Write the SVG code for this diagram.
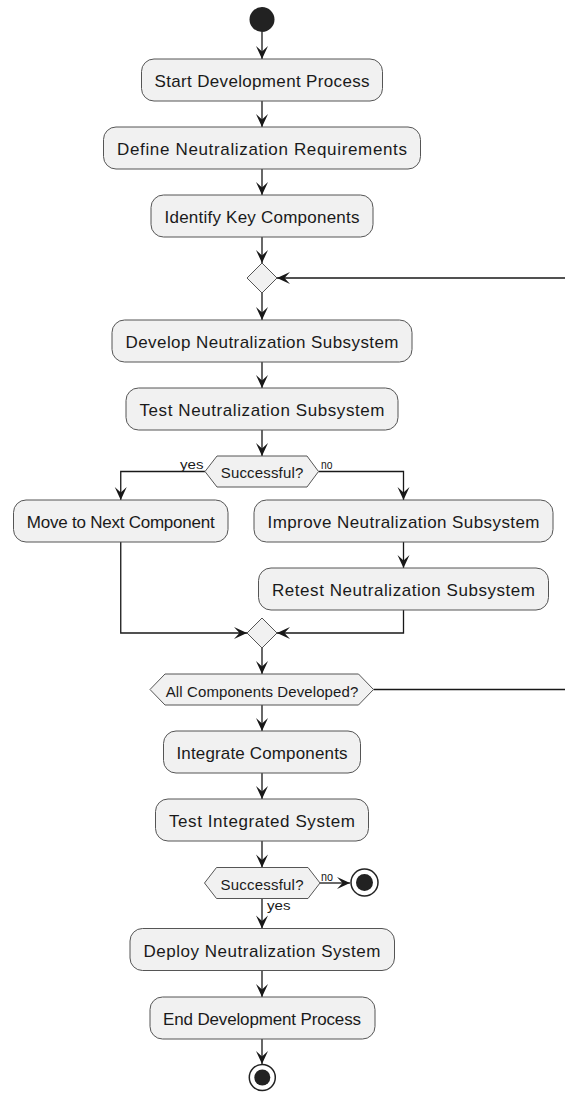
<svg xmlns="http://www.w3.org/2000/svg" width="565" height="1093" viewBox="0 0 565 1093">
  <defs>
    <marker id="arrow" markerUnits="userSpaceOnUse" viewBox="-14 -8 15 16" refX="0" refY="0" markerWidth="15" markerHeight="16" orient="auto">
      <path d="M0,0 L-13,-6 L-7.5,0 L-13,6 Z" fill="#181818"/>
    </marker>
  </defs>
  <style>
    .act { fill: #F1F1F1; stroke: #555555; stroke-width: 1; }
    .dec { fill: #F1F1F1; stroke: #555555; stroke-width: 1; }
    .lbl { font-family: "Liberation Sans", Arial, sans-serif; font-size: 17px; fill: #1a1a1a; text-anchor: middle; }
    .hlbl { font-family: "Liberation Sans", Arial, sans-serif; font-size: 15px; fill: #1a1a1a; text-anchor: middle; }
    .elbl { font-family: "Liberation Sans", Arial, sans-serif; font-size: 13.5px; fill: #1a1a1a; }
    .edge { fill: none; stroke: #181818; stroke-width: 1.3; marker-end: url(#arrow); }
    .dot { fill: #222222; }
    .ring { fill: #ffffff; stroke: #222222; stroke-width: 1.5; }
  </style>

  <rect width="565" height="1093" fill="#ffffff"/>

  <!-- connectors -->
  <g id="connectors">
    <path class="edge" d="M262,32 V59"/>
    <path class="edge" d="M262,101 V127"/>
    <path class="edge" d="M262,169 V195"/>
    <path class="edge" d="M262,237 V263"/>
    <path class="edge" d="M262,293 V320"/>
    <path class="edge" d="M262,362 V388"/>
    <path class="edge" d="M262,430 V456"/>
    <path class="edge" d="M205,471.5 H120.75 V500"/>
    <path class="edge" d="M318.5,471.5 H403.5 V500"/>
    <path class="edge" d="M403.5,542 V568"/>
    <path class="edge" d="M120.75,542 V633 H247"/>
    <path class="edge" d="M403.5,610 V633 H277"/>
    <path class="edge" d="M262,648 V674"/>
    <!-- repeat loop: runs out past the right edge and back into the top merge -->
    <path class="edge" d="M373.5,689.5 H580 V278 H277"/>
    <path class="edge" d="M262,705 V731"/>
    <path class="edge" d="M262,773 V799"/>
    <path class="edge" d="M262,841 V867.5"/>
    <path class="edge" d="M320,883 H350"/>
    <path class="edge" d="M262,898.5 V928.5"/>
    <path class="edge" d="M262,970.5 V997"/>
    <path class="edge" d="M262,1039 V1064"/>
    <text class="elbl" x="180" y="469" textLength="23.5" lengthAdjust="spacingAndGlyphs">yes</text>
    <text class="elbl" x="321" y="469" textLength="11.5" lengthAdjust="spacingAndGlyphs">no</text>
    <text class="elbl" x="321" y="880.5" textLength="12" lengthAdjust="spacingAndGlyphs">no</text>
    <text class="elbl" x="267" y="910" textLength="23.5" lengthAdjust="spacingAndGlyphs">yes</text>
  </g>

  <g id="start">
    <circle class="dot" cx="262" cy="19.5" r="12.5"/>
  </g>

  <g id="start-development">
    <rect class="act" x="141.5" y="59" width="241" height="42" rx="12.5"/>
    <text class="lbl" x="262" y="87" textLength="215">Start Development Process</text>
  </g>

  <g id="define-requirements">
    <rect class="act" x="103.5" y="127" width="317" height="42" rx="12.5"/>
    <text class="lbl" x="262" y="155" textLength="290">Define Neutralization Requirements</text>
  </g>

  <g id="identify-components">
    <rect class="act" x="151" y="195" width="222" height="42" rx="12.5"/>
    <text class="lbl" x="262" y="223" textLength="195">Identify Key Components</text>
  </g>

  <g id="loop-merge">
    <polygon class="dec" points="262,263 277,278 262,293 247,278"/>
  </g>

  <g id="develop-subsystem">
    <rect class="act" x="112" y="320" width="300" height="42" rx="12.5"/>
    <text class="lbl" x="262" y="348" textLength="273">Develop Neutralization Subsystem</text>
  </g>

  <g id="test-subsystem">
    <rect class="act" x="126" y="388" width="272" height="42" rx="12.5"/>
    <text class="lbl" x="262" y="416" textLength="245">Test Neutralization Subsystem</text>
  </g>

  <g id="subsystem-ok">
    <polygon class="dec" points="205,471.5 217,456 307,456 318.5,471.5 307,487 217,487"/>
    <text class="hlbl" x="262" y="478.2" textLength="82.5">Successful?</text>
  </g>

  <g id="next-component">
    <rect class="act" x="13.5" y="500" width="214.5" height="42" rx="12.5"/>
    <text class="lbl" x="120.75" y="528" textLength="188">Move to Next Component</text>
  </g>

  <g id="improve-subsystem">
    <rect class="act" x="254" y="500" width="299" height="42" rx="12.5"/>
    <text class="lbl" x="403.5" y="528" textLength="272">Improve Neutralization Subsystem</text>
  </g>

  <g id="retest-subsystem">
    <rect class="act" x="258.5" y="568" width="290" height="42" rx="12.5"/>
    <text class="lbl" x="403.5" y="596" textLength="263">Retest Neutralization Subsystem</text>
  </g>

  <g id="branch-merge">
    <polygon class="dec" points="262,618 277,633 262,648 247,633"/>
  </g>

  <g id="all-developed">
    <polygon class="dec" points="150,689.5 165,674 358.5,674 373.5,689.5 358.5,705 165,705"/>
    <text class="hlbl" x="262" y="696.5" textLength="192.5">All Components Developed?</text>
  </g>

  <g id="integrate-components">
    <rect class="act" x="163.5" y="731" width="197" height="42" rx="12.5"/>
    <text class="lbl" x="262" y="759" textLength="171">Integrate Components</text>
  </g>

  <g id="test-integrated">
    <rect class="act" x="155.5" y="799" width="213" height="42" rx="12.5"/>
    <text class="lbl" x="262" y="827" textLength="186">Test Integrated System</text>
  </g>

  <g id="system-ok">
    <polygon class="dec" points="204.5,883 216.5,867.5 308,867.5 320,883 308,898.5 216.5,898.5"/>
    <text class="hlbl" x="262" y="889.7" textLength="83">Successful?</text>
  </g>

  <g id="stop-failed">
    <circle class="ring" cx="364.5" cy="882.5" r="13.5"/>
    <circle class="dot" cx="364.5" cy="882.5" r="8.5"/>
  </g>

  <g id="deploy-system">
    <rect class="act" x="130" y="928.5" width="264.5" height="42" rx="12.5"/>
    <text class="lbl" x="262" y="956.5" textLength="237">Deploy Neutralization System</text>
  </g>

  <g id="end-development">
    <rect class="act" x="150" y="997" width="225" height="42" rx="12.5"/>
    <text class="lbl" x="262" y="1025" textLength="198">End Development Process</text>
  </g>

  <g id="stop">
    <circle class="ring" cx="262.3" cy="1077.5" r="13"/>
    <circle class="dot" cx="262.3" cy="1077.5" r="8"/>
  </g>
</svg>
